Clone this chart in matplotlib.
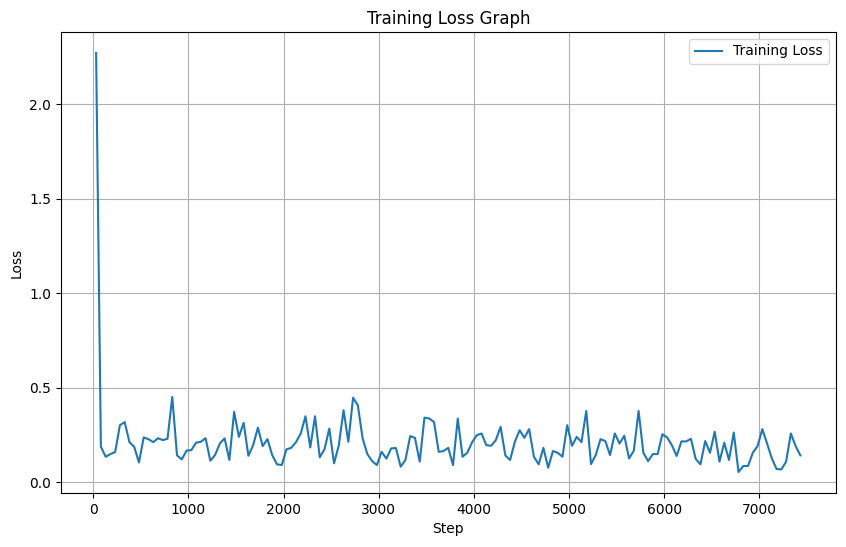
import numpy as np
from matplotlib import pyplot as plt

# logged every 50 steps
steps = np.arange(30, 7431, 50)

loss = [
    2.27, 0.188, 0.135, 0.149, 0.160, 0.302, 0.318, 0.212, 0.188, 0.105,
    0.237, 0.228, 0.212, 0.233, 0.223, 0.230, 0.451, 0.142, 0.121, 0.167,
    0.170, 0.209, 0.214, 0.233, 0.114, 0.144, 0.205, 0.232, 0.118, 0.372,
    0.240, 0.314, 0.140, 0.196, 0.289, 0.191, 0.228, 0.144, 0.095, 0.091,
    0.174, 0.182, 0.212, 0.258, 0.349, 0.184, 0.349, 0.132, 0.175, 0.284,
    0.100, 0.196, 0.381, 0.214, 0.447, 0.407, 0.232, 0.149, 0.112, 0.091,
    0.161, 0.125, 0.179, 0.181, 0.082, 0.118, 0.244, 0.235, 0.109, 0.342,
    0.337, 0.319, 0.161, 0.165, 0.182, 0.091, 0.337, 0.135, 0.156, 0.211,
    0.249, 0.258, 0.196, 0.193, 0.223, 0.293, 0.142, 0.118, 0.214, 0.275,
    0.235, 0.281, 0.135, 0.095, 0.182, 0.077, 0.165, 0.156, 0.135, 0.302,
    0.193, 0.240, 0.212, 0.377, 0.096, 0.144, 0.228, 0.218, 0.144, 0.258,
    0.205, 0.246, 0.126, 0.167, 0.377, 0.156, 0.112, 0.149, 0.149, 0.254,
    0.237, 0.196, 0.139, 0.216, 0.216, 0.230, 0.123, 0.095, 0.218, 0.156,
    0.267, 0.109, 0.209, 0.118, 0.263, 0.054, 0.086, 0.086, 0.156, 0.191,
    0.281, 0.205, 0.126, 0.070, 0.068, 0.109, 0.258, 0.191, 0.142,
]

fig = plt.figure(figsize=(8.46, 5.47), dpi=100)
ax = fig.add_axes([0.0720, 0.0987, 0.9157, 0.8428])
ax.plot(steps, loss, label='Training Loss')
ax.set_title('Training Loss Graph')
ax.set_xlabel('Step')
ax.set_ylabel('Loss')
ax.legend(loc='upper right')
ax.grid(True)

fig.savefig('out.png', dpi=100)
